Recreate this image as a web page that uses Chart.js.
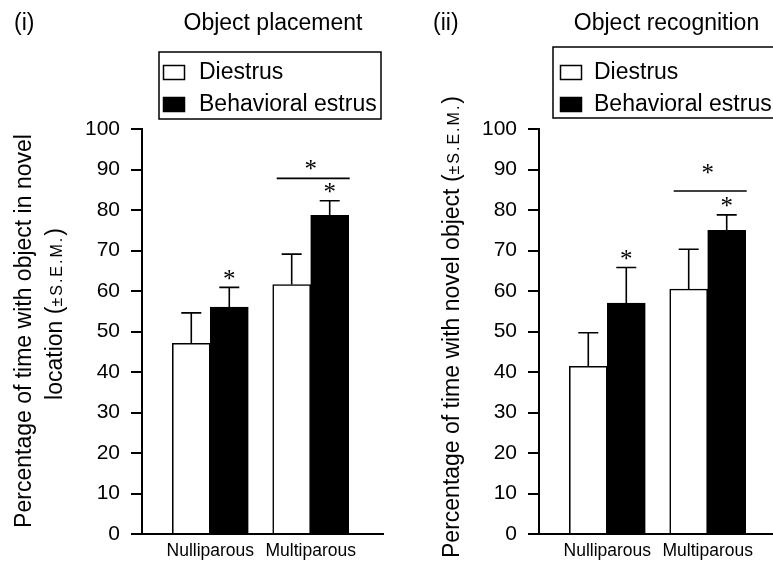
<!DOCTYPE html>
<html><head><meta charset="utf-8">
<script src="https://cdn.jsdelivr.net/npm/chart.js@4"></script>
<style>
html,body{margin:0;padding:0;background:#fff;overflow:hidden;width:773px;height:564px;position:relative;}
canvas{position:absolute;top:0;}
#c1{left:0;} #c2{left:397px;}
</style></head><body>
<canvas id="c1" width="397" height="564"></canvas>
<canvas id="c2" width="397" height="564"></canvas>
<script>
// ---------------- data ----------------
const categories = ['Nulliparous', 'Multiparous'];
const seriesNames = ['Diestrus', 'Behavioral estrus'];
const yTicks = [0, 10, 20, 30, 40, 50, 60, 70, 80, 90, 100];

// (i) Object placement
const placementDiestrus = [47.1, 61.6];
const placementDiestrusSEM = [7.5, 7.5];
const placementEstrus = [56.0, 78.7];
const placementEstrusSEM = [4.9, 3.6];
const placementEstrusStar = [true, true];
const placementBracketLine = 87.8;
const placementBracketStar = 90.9;

// (ii) Object recognition
const recognitionDiestrus = [41.4, 60.5];
const recognitionDiestrusSEM = [8.3, 9.8];
const recognitionEstrus = [57.0, 75.0];
const recognitionEstrusSEM = [8.8, 3.8];
const recognitionEstrusStar = [true, true];
const recognitionBracketLine = 84.7;
const recognitionBracketStar = 89.9;

// ---------------- drawing ----------------
const FONT = '"Liberation Sans", Arial, Helvetica, sans-serif';
const SERIF = '"Liberation Serif", "Times New Roman", serif';

function drawStar(ctx, x, cy) {
  ctx.save();
  ctx.font = '25px ' + SERIF;
  ctx.textAlign = 'center';
  ctx.textBaseline = 'alphabetic';
  ctx.fillStyle = '#000';
  ctx.fillText('*', x, cy + 11.5);
  ctx.restore();
}

function drawRotated(ctx, baseX, centerY, segments) {
  ctx.save();
  ctx.translate(baseX, centerY);
  ctx.rotate(-Math.PI / 2);
  ctx.fillStyle = '#000';
  ctx.textAlign = 'left';
  ctx.textBaseline = 'alphabetic';
  const widths = segments.map(s => {
    ctx.font = s.size + 'px ' + FONT;
    if (!s.spacing) return ctx.measureText(s.text).width;
    let w = 0;
    for (const ch of s.text) w += ctx.measureText(ch).width + s.spacing;
    return w;
  });
  const total = widths.reduce((a, b) => a + b, 0);
  let x = -total / 2;
  segments.forEach((s, i) => {
    ctx.font = s.size + 'px ' + FONT;
    if (!s.spacing) {
      ctx.fillText(s.text, x, 0);
    } else {
      let xx = x;
      for (const ch of s.text) { ctx.fillText(ch, xx, 0); xx += ctx.measureText(ch).width + s.spacing; }
    }
    x += widths[i];
  });
  ctx.restore();
}

const extrasPlugin = {
  id: 'extras',
  afterDatasetsDraw(chart) {
    const cfg = chart.options.plugins.extras;
    const ctx = chart.ctx;
    const yS = chart.scales.y;
    ctx.save();
    ctx.strokeStyle = '#000';
    ctx.lineWidth = 1.6;
    // error bars (upper only)
    chart.data.datasets.forEach((ds, d) => {
      const meta = chart.getDatasetMeta(d);
      meta.data.forEach((el, i) => {
        const top = yS.getPixelForValue(ds.data[i].y + ds.sem[i]);
        ctx.beginPath();
        ctx.moveTo(el.x, el.y);
        ctx.lineTo(el.x, top);
        ctx.moveTo(el.x - 10, top);
        ctx.lineTo(el.x + 10, top);
        ctx.stroke();
        if (ds.star && ds.star[i]) drawStar(ctx, el.x, top - 12);
      });
    });
    // bracket over the second group
    const m0 = chart.getDatasetMeta(0).data[1];
    const m1 = chart.getDatasetMeta(1).data[1];
    const ly = yS.getPixelForValue(cfg.bracketLine);
    ctx.beginPath();
    ctx.moveTo(m0.x - m0.width / 2 + 4, ly);
    ctx.lineTo(m1.x + m1.width / 2 + 1, ly);
    ctx.stroke();
    drawStar(ctx, (m0.x + m1.x) / 2, yS.getPixelForValue(cfg.bracketStar));
    ctx.restore();
  },
  afterDraw(chart) {
    const cfg = chart.options.plugins.extras;
    const ctx = chart.ctx;
    ctx.save();
    ctx.fillStyle = '#000';
    ctx.textBaseline = 'middle';
    ctx.font = '23px ' + FONT;
    ctx.textAlign = 'left';
    ctx.fillText(cfg.panel, cfg.panelX, 24);
    ctx.textAlign = 'center';
    ctx.fillText(cfg.title, cfg.titleCX, 24);
    // legend
    const b = cfg.legendBox;
    ctx.strokeStyle = '#000';
    ctx.lineWidth = 1.5;
    ctx.strokeRect(b.x, b.y, b.w, b.h);
    chart.data.datasets.forEach((ds, d) => {
      const sy = [65, 97][d];
      ctx.fillStyle = ds.backgroundColor;
      ctx.fillRect(163, sy, 22, 15);
      ctx.strokeRect(163.5, sy + 0.5, 21, 14);
      ctx.fillStyle = '#000';
      ctx.textAlign = 'left';
      ctx.font = '23px ' + FONT;
      ctx.fillText(ds.label, cfg.legendTextX, sy + 8);
    });
    ctx.restore();
    // y-axis title(s)
    cfg.yTitle.forEach(line => drawRotated(ctx, line.x, line.cy, line.segments));
  }
};

function makeChart(id, diestrus, diestrusSEM, estrus, estrusSEM, estrusStar, extras) {
  const toXY = arr => arr.map((v, i) => ({ x: i + 1, y: v }));
  return new Chart(document.getElementById(id), {
    type: 'bar',
    data: {
      datasets: [
        { label: seriesNames[0], data: toXY(diestrus), sem: diestrusSEM,
          backgroundColor: '#ffffff', borderColor: '#000000', borderWidth: 1.6, barThickness: 38 },
        { label: seriesNames[1], data: toXY(estrus), sem: estrusSEM, star: estrusStar,
          backgroundColor: '#000000', borderColor: '#000000', borderWidth: 1.6, barThickness: 38 }
      ]
    },
    options: {
      responsive: false,
      animation: false,
      devicePixelRatio: 1,
      layout: { padding: { top: 129, right: 14, bottom: 0, left: 0 } },
      plugins: { legend: { display: false }, tooltip: { enabled: false }, title: { display: false }, extras },
      scales: {
        x: {
          type: 'linear', min: 0.32, max: 2.72, offset: false,
          afterBuildTicks: s => { s.ticks = categories.map((c, i) => ({ value: i + 1 })); },
          afterFit: s => { s.height = 30; },
          ticks: { callback: v => categories[Math.round(v) - 1], color: '#000', font: { family: FONT, size: 17.5 }, padding: 7, autoSkip: false, maxRotation: 0 },
          grid: { display: true, drawOnChartArea: false, drawTicks: false, offset: false },
          border: { display: true, color: '#000', width: 2 }
        },
        y: {
          type: 'linear', min: 0, max: 100,
          afterBuildTicks: s => { s.ticks = yTicks.map(v => ({ value: v })); },
          afterFit: s => { s.width = 142; },
          ticks: { color: '#000', font: { family: FONT, size: 21 }, padding: 11 },
          grid: { display: true, drawOnChartArea: false, drawTicks: true, tickLength: 11, color: '#000', lineWidth: 2 },
          border: { display: true, color: '#000', width: 2 }
        }
      }
    },
    plugins: [extrasPlugin]
  });
}

makeChart('c1', placementDiestrus, placementDiestrusSEM, placementEstrus, placementEstrusSEM, placementEstrusStar, {
  panel: '(i)', panelX: 14, title: 'Object placement', titleCX: 273,
  legendBox: { x: 159, y: 52, w: 222, h: 67 }, legendTextX: 199,
  bracketLine: placementBracketLine, bracketStar: placementBracketStar,
  yTitle: [
    { x: 31, cy: 331, segments: [{ text: 'Percentage of time with object in novel', size: 23 }] },
    { x: 62, cy: 314, segments: [{ text: 'location (', size: 23 }, { text: '±S.E.M.', size: 16, spacing: 2 }, { text: ')', size: 23 }] }
  ]
});

makeChart('c2', recognitionDiestrus, recognitionDiestrusSEM, recognitionEstrus, recognitionEstrusSEM, recognitionEstrusStar, {
  panel: '(ii)', panelX: 36, title: 'Object recognition', titleCX: 269.5,
  legendBox: { x: 156, y: 47, w: 260, h: 71 }, legendTextX: 197,
  bracketLine: recognitionBracketLine, bracketStar: recognitionBracketStar,
  yTitle: [
    { x: 62, cy: 327, segments: [{ text: 'Percentage of time with novel object (', size: 23 }, { text: '±S.E.M.', size: 16, spacing: 2 }, { text: ')', size: 23 }] }
  ]
});
</script>
</body></html>
